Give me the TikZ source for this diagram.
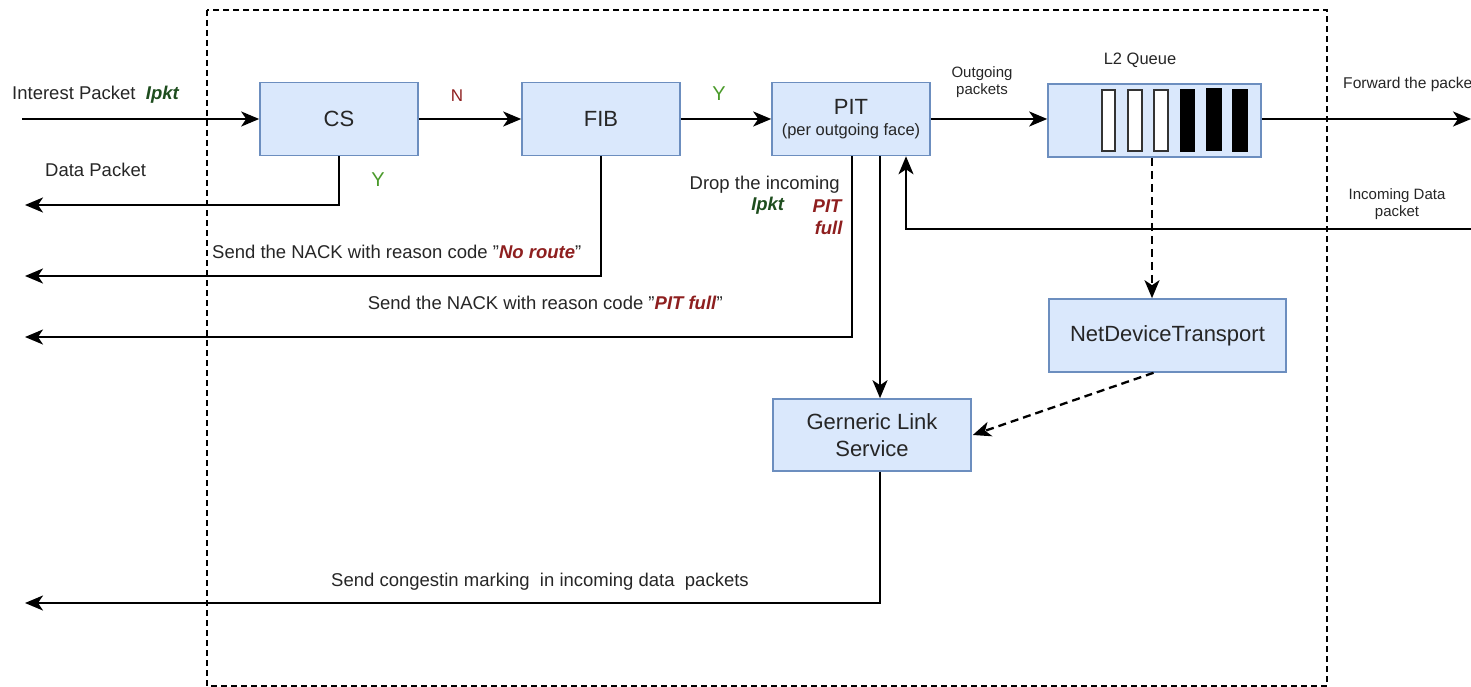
\documentclass[tikz,border=0pt]{standalone}
\usepackage{fontspec}
\setmainfont{Liberation Sans}
\usepackage{xcolor}
\usetikzlibrary{positioning,arrows.meta,calc}

\definecolor{boxfill}{HTML}{DAE8FC}
\definecolor{boxline}{HTML}{6C8EBF}
\definecolor{ygreen}{HTML}{4A9A2A}
\definecolor{pktgreen}{HTML}{1E4D1E}
\definecolor{nred}{HTML}{8E1F1F}

\newcommand{\pk}{\textcolor{pktgreen}{\textbf{\textit{Ipkt}}}}
\newcommand{\rd}[1]{\textcolor{nred}{\textbf{\textit{#1}}}}

\begin{document}
\begin{tikzpicture}[x=1pt, y=-1pt, text=black!85,
    cbox/.style={draw=boxline, fill=boxfill, line width=1.6pt, minimum width=158pt,
                 minimum height=73pt, align=center, inner sep=2pt,
                 font=\fontsize{22}{27}\selectfont},
    arr/.style={-{Stealth[length=18pt, width=15pt, inset=5pt]}, line width=2.3pt},
    darr/.style={arr, dash pattern=on 8pt off 5pt},
    labl/.style={font=\fontsize{18.5}{22}\selectfont, inner sep=0pt},
    smal/.style={font=\fontsize{15}{17.5}\selectfont, inner sep=0pt, align=center}]

    \useasboundingbox (0,0) rectangle (1471,687);

    % router boundary
    \draw[line width=2.3pt, dash pattern=on 6pt off 4pt] (207,10) rectangle (1327,686);

    % === Processing blocks ===
    \node[cbox] (CS)  at (339,119)  {CS};
    \node[cbox] (FIB) at (601,119)  {FIB};
    \node[cbox] (PIT) at (851,119)
      {PIT\\[-6pt]{\fontsize{16.5}{19}\selectfont (per outgoing face)}};
    \node[cbox, minimum width=213pt, minimum height=73pt] (LQ) at (1154.5,120.5) {};
    \node[cbox, minimum width=237pt] (NDT) at (1167.5,335.5) {NetDeviceTransport};
    \node[cbox, minimum width=198pt, minimum height=72pt] (GLS) at (872,435)
      {Gerneric Link\\Service};

    % queue slots
    \draw[line width=1.3pt, draw=black!80, fill=white] (1102,90) rectangle (1115,151);
    \draw[line width=1.3pt, draw=black!80, fill=white] (1128,90) rectangle (1142,151);
    \draw[line width=1.3pt, draw=black!80, fill=white] (1154,90) rectangle (1168,151);
    \draw[line width=1.3pt, fill=black] (1181,90) rectangle (1194,151);
    \draw[line width=1.3pt, fill=black] (1207,89) rectangle (1221,150);
    \draw[line width=1.3pt, fill=black] (1233,90) rectangle (1247,151);

    % free ends on the left and right
    \coordinate (in)   at (22,119);
    \coordinate (out)  at (1471,119);
    \coordinate (dIn)  at (1471,229);
    \coordinate (lDP)  at (25,205);
    \coordinate (lNR)  at (25,276);
    \coordinate (lPF)  at (25,337);
    \coordinate (lCM)  at (25,603);

    % === Main flow ===
    \draw[arr] (in) -- (CS.west);
    \draw[arr] (CS.east) -- (FIB.west);
    \draw[arr] (FIB.east) -- (PIT.west);
    \draw[arr] (PIT.east) -- (LQ.west |- PIT.east);
    \draw[arr] (LQ.east |- PIT.east) -- (out);

    % incoming data back to PIT
    \draw[arr] (dIn) -| ([xshift=55pt]PIT.south);

    % === Returns to the left ===
    \draw[arr] (CS.south) |- (lDP);
    \draw[arr] (FIB.south) |- (lNR);
    \draw[arr] ([xshift=1pt]PIT.south) |- (lPF);
    \draw[arr] ([xshift=29pt]PIT.south) -- ([xshift=29pt]PIT.south |- GLS.north);
    \draw[arr] ([xshift=8pt]GLS.south) |- (lCM);

    % queue to transport and back to link service
    \draw[darr] ([xshift=-2.5pt]LQ.south) -- ([xshift=-2.5pt]LQ.south |- NDT.north);
    \draw[darr] ([xshift=-14pt]NDT.south) -- ([xshift=1pt]GLS.east);

    % === Labels ===
    \node[labl, anchor=west] (lIP) at (12,95) {Interest Packet \ \pk};
    \node[labl, anchor=west] (lD)  at (45,170) {Data Packet};
    \node[labl, text=ygreen, font=\fontsize{20}{24}\selectfont] (lY1) at (378,180) {Y};
    \node[labl, text=nred, font=\fontsize{17}{20}\selectfont] (lN) at (457,96) {N};
    \node[labl, text=ygreen, font=\fontsize{20}{24}\selectfont] (lY2) at (719,94) {Y};
    \node[labl, anchor=east] (lDr) at (840,185) {Drop the incoming};
    \node[labl] (lPk) at (768,206) {\pk};
    \node[labl, anchor=east, align=right] (lPf) at (843,217) {\rd{PIT}\\\rd{full}};
    \node[labl, anchor=west] (lNo) at (212,252) {Send the NACK with reason code "\rd{No route}"};
    \node[labl, anchor=east] (lPt) at (723,303) {Send the NACK with reason code "\rd{PIT full}"};
    \node[labl] (lCg) at (540,582) {Send congestin marking \ in incoming data \ packets};
    \node[smal] (lOut) at (982,82) {Outgoing\\packets};
    \node[smal, font=\fontsize{16.5}{19}\selectfont] (lL2) at (1140,60) {L2 Queue};
    \node[smal, anchor=west, font=\fontsize{15.6}{18}\selectfont] (lFw) at (1343,84) {Forward the packet};
    \node[smal] (lInD) at (1397,204) {Incoming Data\\packet};

\end{tikzpicture}
\end{document}
